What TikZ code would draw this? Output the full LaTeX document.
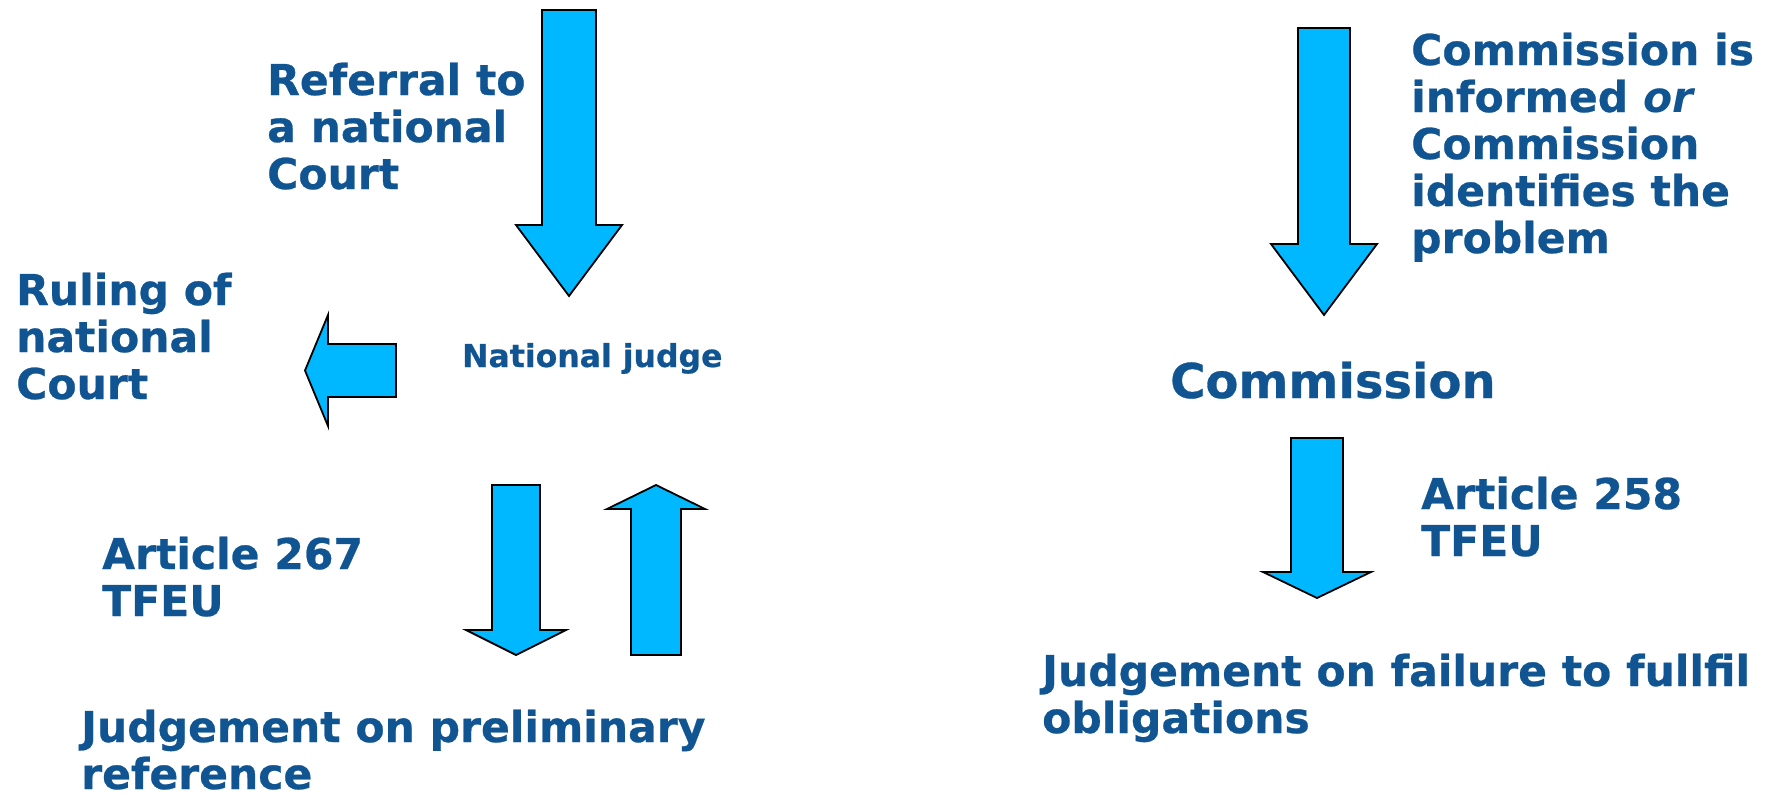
\documentclass[tikz,border=0pt]{standalone}
\usepackage{fontspec}
\setmainfont{DejaVu Sans}[BoldFeatures={FakeBold=0.6}]
\definecolor{myblue}{RGB}{16,85,146}
\definecolor{mycyan}{RGB}{0,184,255}
\newcommand{\sizebig}{\fontsize{42.5}{47}\selectfont}
\newcommand{\sizehuge}{\fontsize{48}{52}\selectfont}
\newcommand{\sizesmall}{\fontsize{31.5}{36}\selectfont}
% #1 base, #2 angle, #3 shaft length, #4 total length, #5 half shaft, #6 half head
\newcommand{\blockarrow}[6]{
    \draw[block, shift={#1}, rotate=#2]
        (0,-#5) -- (#3,-#5) -- (#3,-#6) -- (#4,0) -- (#3,#6) -- (#3,#5) -- (0,#5) -- cycle;
}
\tikzset{
    common/.style={anchor=base west, inner sep=0pt, text=myblue, align=left},
    bigtext/.style={common, font=\sizebig\bfseries},
    hugetext/.style={common, font=\sizehuge\bfseries},
    smalltext/.style={common, font=\sizesmall\bfseries},
    block/.style={draw=black, line width=1.8pt, fill=mycyan, line join=miter}
}
\begin{document}
\begin{tikzpicture}[x=1pt, y=1pt]
    \useasboundingbox (0,0) rectangle (1773,-795);

    \node[bigtext] (referral) at (267,-189) {Referral to\\a national\\Court};
    \node[bigtext] (ruling) at (16,-399) {Ruling of\\national\\Court};
    \node[smalltext] (judge) at (462,-367) {National judge};
    \node[bigtext] (art267) at (102,-616) {Article 267\\TFEU};
    \node[bigtext] (prelim) at (81,-789) {Judgement on preliminary\\reference};

    \node[bigtext] (informed) at (1411,-253) {Commission is\\informed \textit{or}\\Commission\\identifies the\\problem};
    \node[hugetext] (commission) at (1170,-398) {Commission};
    \node[bigtext] (art258) at (1421,-556) {Article 258\\TFEU};
    \node[bigtext] (failure) at (1042,-733) {Judgement on failure to fullfil\\obligations};

    \blockarrow{(569,-10)}{-90}{215}{286}{27}{53}
    \blockarrow{(396,-370.5)}{180}{68}{91}{26.5}{55.5}
    \blockarrow{(516,-485)}{-90}{145}{170}{24}{50}
    \blockarrow{(656,-655)}{90}{146}{170}{25}{49}

    \blockarrow{(1324,-28)}{-90}{216}{287}{26}{53}
    \blockarrow{(1317,-438)}{-90}{134}{160}{26}{54}
\end{tikzpicture}
\end{document}
